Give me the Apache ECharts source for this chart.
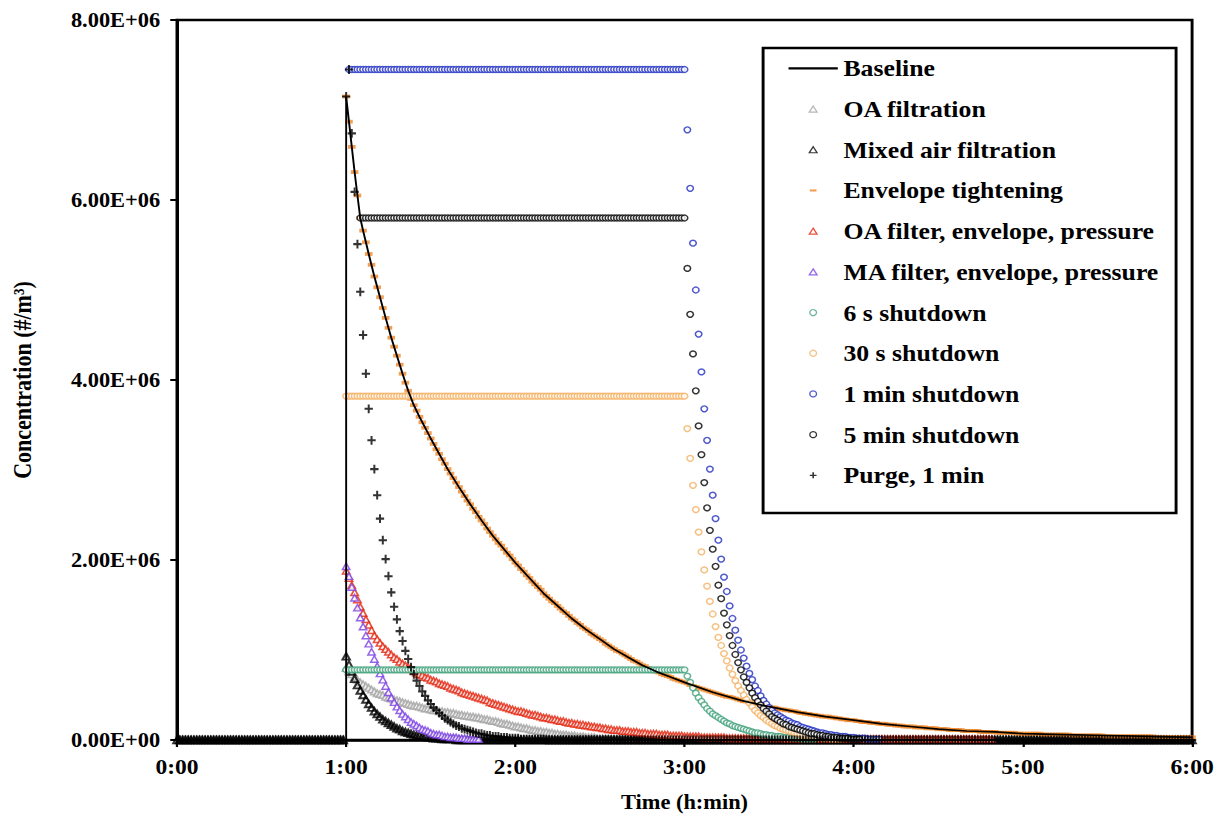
<!DOCTYPE html>
<html>
<head>
<meta charset="utf-8">
<script src="https://cdn.jsdelivr.net/npm/echarts@6/dist/echarts.min.js"></script>
<style>
html,body{margin:0;padding:0;background:#fff;overflow:hidden;}
#chart{width:1091px;height:816px;transform:scaleX(1.12007);transform-origin:0 0;}
</style>
</head>
<body>
<div id="chart"></div>
<script>
// ---------------- DATA (values in units of 1e6 #/m3, one value per minute) ----------------
const UNIT = 1e6;
const xTickLabels = ['0:00','1:00','2:00','3:00','4:00','5:00','6:00'];
const yTickLabels = ['0.00E+00','2.00E+06','4.00E+06','6.00E+06','8.00E+06'];
const seriesNames = ['Baseline','OA filtration','Mixed air filtration','Envelope tightening',
  'OA filter, envelope, pressure','MA filter, envelope, pressure','6 s shutdown',
  '30 s shutdown','1 min shutdown','5 min shutdown','Purge, 1 min'];

const baselineMinutes = [0,60,60,61,62,63,64,65,66,67,68,70,72,74,76,78,80,82,84,86,88,90,93,96,100,104,108,112,116,120,125,130,135,140,145,150,155,160,165,170,175,180,190,200,210,220,230,240,250,260,270,280,290,300,315,330,345,360];
const baselineValues = [0,0,7.15,6.87,6.59,6.31,6.05,5.80,5.66,5.53,5.40,5.15,4.92,4.69,4.47,4.27,4.07,3.88,3.72,3.59,3.47,3.35,3.18,3.01,2.81,2.62,2.44,2.27,2.12,1.97,1.80,1.63,1.49,1.35,1.23,1.12,1.01,0.92,0.83,0.76,0.70,0.64,0.53,0.44,0.37,0.31,0.26,0.22,0.18,0.15,0.12,0.10,0.09,0.07,0.06,0.05,0.04,0.03];

const oaFiltrationStart = 60;
const oaFiltration = [
0.80,0.76,0.73,0.70,0.67,0.64,0.62,0.60,0.58,0.56,
0.54,0.52,0.51,0.50,0.48,0.47,0.46,0.45,0.44,0.43,
0.42,0.41,0.40,0.39,0.38,0.38,0.37,0.36,0.35,0.35,
0.34,0.33,0.33,0.32,0.32,0.31,0.31,0.30,0.30,0.29,
0.28,0.28,0.27,0.27,0.26,0.26,0.25,0.25,0.24,0.23,
0.23,0.22,0.21,0.21,0.20,0.19,0.18,0.18,0.17,0.16,
0.15,0.15,0.14,0.13,0.13,0.12,0.11,0.11,0.10,0.10,
0.09,0.09,0.08,0.08,0.07,0.07,0.06,0.06,0.06,0.05,
0.05,0.05,0.04,0.04,0.04,0.03,0.03,0.03,0.03,0.02,
0.02,0.02,0.02,0.02,0.02,0.02,0.02,0.02,0.02,0.02,
0.01,0.01,0.01,0.01,0.01,0.01,0.01,0.01,0.01,0.01,0.01,0.01,0.01,0.01,0.01,0.01];

const mixedAirStart = 0;
const mixedAirFiltration = [
0,0,0,0,0,0,0,0,0,0,0,0,0,0,0,0,0,0,0,0,
0,0,0,0,0,0,0,0,0,0,0,0,0,0,0,0,0,0,0,0,
0,0,0,0,0,0,0,0,0,0,0,0,0,0,0,0,0,0,0,0,
0.93,0.84,0.76,0.68,0.61,0.55,0.50,0.45,0.40,0.36,
0.32,0.29,0.26,0.23,0.21,0.19,0.17,0.15,0.13,0.12,
0.10,0.09,0.08,0.07,0.06,0.05,0.05,0.04,0.04,0.03,
0.03,0.02,0.02,0.02,0.01,0.01,0.01,0.01,0.01,
0,0,0,0,0,0,0,0,0,0,0,0,0,0,0,0,0,0,0,0,
0,0,0,0,0,0,0,0,0,0,0,0,0,0,0,0,0,0,0,0,
0,0,0,0,0,0,0,0,0,0,0,0,0,0,0,0,0,0,0,0,
0,0,0,0,0,0,0,0,0,0,0,0,0,0,0,0,0,0,0,0,
0,0,0,0,0,0,0,0,0,0,0,0,0,0,0,0,0,0,0,0,
0,0,0,0,0,0,0,0,0,0,0,0,0,0,0,0,0,0,0,0,
0,0,0,0,0,0,0,0,0,0,0,0,0,0,0,0,0,0,0,0,
0,0,0,0,0,0,0,0,0,0,0,0,0,0,0,0,0,0,0,0,
0,0,0,0,0,0,0,0,0,0,0,0,0,0,0,0,0,0,0,0,
0,0,0,0,0,0,0,0,0,0,0,0,0,0,0,0,0,0,0,0,
0,0,0,0,0,0,0,0,0,0,0,0,0,0,0,0,0,0,0,0,
0,0,0,0,0,0,0,0,0,0,0,0,0,0,0,0,0,0,0,0,
0,0,0,0,0,0,0,0,0,0,0,0,0,0,0,0,0,0,0,0,
0,0];

const envelopeStart = 60;
const envelopeTightening = [
7.15,6.87,6.59,6.31,6.05,5.80,5.66,5.53,5.40,5.28,
5.15,5.03,4.92,4.80,4.69,4.58,4.47,4.37,4.27,4.17,
4.07,3.97,3.88,3.79,3.72,3.66,3.59,3.53,3.47,3.41,
3.35,3.29,3.23,3.18,3.12,3.07,3.01,2.96,2.91,2.86,
2.81,2.76,2.71,2.66,2.62,2.57,2.53,2.48,2.44,2.40,
2.35,2.31,2.27,2.23,2.19,2.16,2.12,2.08,2.05,2.01,
1.97,1.94,1.90,1.87,1.83,1.80,1.76,1.73,1.70,1.67,
1.63,1.60,1.57,1.54,1.52,1.49,1.46,1.43,1.41,1.38,
1.35,1.33,1.30,1.28,1.25,1.23,1.21,1.18,1.16,1.14,
1.12,1.10,1.07,1.05,1.03,1.01,0.99,0.98,0.96,0.94,
0.92,0.90,0.88,0.87,0.85,0.83,0.82,0.80,0.79,0.77,
0.76,0.75,0.73,0.72,0.71,0.70,0.68,0.67,0.66,0.65,
0.64,0.63,0.61,0.60,0.59,0.58,0.57,0.56,0.55,0.54,
0.53,0.52,0.51,0.50,0.49,0.48,0.48,0.47,0.46,0.45,
0.44,0.43,0.43,0.42,0.41,0.40,0.40,0.39,0.38,0.38,
0.37,0.36,0.36,0.35,0.34,0.34,0.33,0.33,0.32,0.32,
0.31,0.30,0.30,0.29,0.29,0.28,0.28,0.27,0.27,0.26,
0.26,0.26,0.25,0.25,0.24,0.24,0.23,0.23,0.22,0.22,
0.22,0.21,0.21,0.20,0.20,0.20,0.19,0.19,0.19,0.18,
0.18,0.18,0.17,0.17,0.17,0.16,0.16,0.16,0.15,0.15,
0.15,0.15,0.14,0.14,0.14,0.14,0.13,0.13,0.13,0.13,
0.12,0.12,0.12,0.12,0.11,0.11,0.11,0.11,0.11,0.10,
0.10,0.10,0.10,0.10,0.10,0.09,0.09,0.09,0.09,0.09,
0.09,0.08,0.08,0.08,0.08,0.08,0.08,0.08,0.07,0.07,
0.07,0.07,0.07,0.07,0.07,0.07,0.07,0.06,0.06,0.06,
0.06,0.06,0.06,0.06,0.06,0.06,0.06,0.05,0.05,0.05,
0.05,0.05,0.05,0.05,0.05,0.05,0.05,0.05,0.05,0.04,
0.04,0.04,0.04,0.04,0.04,0.04,0.04,0.04,0.04,0.04,
0.04,0.04,0.04,0.04,0.04,0.04,0.04,0.03,0.03,0.03,
0.03,0.03,0.03,0.03,0.03,0.03,0.03,0.03,0.03,0.03,0.03];

const oaFilterEnvStart = 60;
const oaFilterEnvelopePressure = [
1.88,1.80,1.72,1.64,1.56,1.48,1.41,1.34,1.28,1.22,
1.16,1.12,1.08,1.04,1.01,0.98,0.95,0.92,0.90,0.87,
0.85,0.83,0.81,0.79,0.77,0.75,0.73,0.72,0.70,0.69,
0.67,0.66,0.65,0.63,0.62,0.61,0.60,0.58,0.57,0.56,
0.55,0.53,0.52,0.51,0.50,0.49,0.48,0.47,0.46,0.45,
0.44,0.42,0.41,0.40,0.39,0.38,0.37,0.36,0.35,0.34,
0.33,0.32,0.32,0.31,0.30,0.29,0.28,0.28,0.27,0.26,
0.25,0.25,0.24,0.23,0.23,0.22,0.21,0.21,0.20,0.19,
0.19,0.18,0.18,0.17,0.17,0.16,0.16,0.15,0.15,0.14,
0.14,0.13,0.13,0.12,0.12,0.11,0.11,0.11,0.10,0.10,
0.10,0.09,0.09,0.09,0.08,0.08,0.08,0.07,0.07,0.07,
0.07,0.06,0.06,0.06,0.06,0.05,0.05,0.05,0.05,0.05,
0.04,0.04,0.04,0.04,0.04,0.04,0.03,0.03,0.03,0.03,
0.03,0.03,0.03,0.03,0.03,0.02,0.02,0.02,0.02,0.02,
0.02,0.02,0.02,0.02,0.02,0.02,0.02,0.02,0.02,0.02,
0.02,0.02,0.02,0.02,0.02,0.02,0.01,0.01,0.01,0.01,
0.01,0.01,0.01,0.01,0.01,0.01,0.01,0.01,0.01,0.01,
0.01,0.01,0.01,0.01,0.01,0.01,0.01,0.01,0.01,0.01,
0.01,0.01,0.01,0.01,0.01,0.01,0.01,0.01,0.01,0.01,
0.01,0.01,0.01,0.01,0.01,0.01,0.01,0.01,0.01,0.01,
0.01,0.01,0.01,0.01,0.01,0.01,0.01,0.01,0.01,0.01,
0.01,0.01,0.01,0.01,0.01,0.01,0.01,0.01,0.01,0.01,
0.01,0.01,0.01,0.01,0.01,0.01,0.01,0.01,0.01,0.01];

const maFilterEnvStart = 60;
const maFilterEnvelopePressure = [
1.93,1.82,1.70,1.58,1.47,1.36,1.26,1.16,1.07,0.98,
0.90,0.82,0.74,0.67,0.60,0.53,0.47,0.42,0.37,0.33,
0.29,0.26,0.23,0.20,0.18,0.16,0.14,0.12,0.11,0.10,
0.08,0.07,0.06,0.06,0.05,0.04,0.04,0.03,0.03,0.03,
0.02,0.02,0.02,0.01,0.01,0.01,0.01,0.01];

const sixSecStart = 60;
const sixSecShutdown = [
0.78,0.78,0.78,0.78,0.78,0.78,0.78,0.78,0.78,0.78,0.78,0.78,0.78,0.78,0.78,0.78,0.78,0.78,0.78,0.78,
0.78,0.78,0.78,0.78,0.78,0.78,0.78,0.78,0.78,0.78,0.78,0.78,0.78,0.78,0.78,0.78,0.78,0.78,0.78,0.78,
0.78,0.78,0.78,0.78,0.78,0.78,0.78,0.78,0.78,0.78,0.78,0.78,0.78,0.78,0.78,0.78,0.78,0.78,0.78,0.78,
0.78,0.78,0.78,0.78,0.78,0.78,0.78,0.78,0.78,0.78,0.78,0.78,0.78,0.78,0.78,0.78,0.78,0.78,0.78,0.78,
0.78,0.78,0.78,0.78,0.78,0.78,0.78,0.78,0.78,0.78,0.78,0.78,0.78,0.78,0.78,0.78,0.78,0.78,0.78,0.78,
0.78,0.78,0.78,0.78,0.78,0.78,0.78,0.78,0.78,0.78,0.78,0.78,0.78,0.78,0.78,0.78,0.78,0.78,0.78,0.78,
0.78,
0.71,0.64,0.58,0.52,0.47,0.43,0.39,0.35,0.32,0.29,
0.27,0.25,0.23,0.21,0.19,0.18,0.16,0.15,0.14,0.13,
0.12,0.11,0.10,0.09,0.08,0.08,0.07,0.06,0.06,0.05,
0.05,0.04,0.04,0.04,0.03,0.03,0.03,0.02,0.02,0.02,
0.02,0.01,0.01,0.01,0.01,0.01];

const thirtySecStart = 60;
const thirtySecShutdown = [
3.82,3.82,3.82,3.82,3.82,3.82,3.82,3.82,3.82,3.82,3.82,3.82,3.82,3.82,3.82,3.82,3.82,3.82,3.82,3.82,
3.82,3.82,3.82,3.82,3.82,3.82,3.82,3.82,3.82,3.82,3.82,3.82,3.82,3.82,3.82,3.82,3.82,3.82,3.82,3.82,
3.82,3.82,3.82,3.82,3.82,3.82,3.82,3.82,3.82,3.82,3.82,3.82,3.82,3.82,3.82,3.82,3.82,3.82,3.82,3.82,
3.82,3.82,3.82,3.82,3.82,3.82,3.82,3.82,3.82,3.82,3.82,3.82,3.82,3.82,3.82,3.82,3.82,3.82,3.82,3.82,
3.82,3.82,3.82,3.82,3.82,3.82,3.82,3.82,3.82,3.82,3.82,3.82,3.82,3.82,3.82,3.82,3.82,3.82,3.82,3.82,
3.82,3.82,3.82,3.82,3.82,3.82,3.82,3.82,3.82,3.82,3.82,3.82,3.82,3.82,3.82,3.82,3.82,3.82,3.82,3.82,
3.82,
3.46,3.13,2.83,2.56,2.31,2.09,1.89,1.71,1.54,1.40,
1.26,1.14,1.05,0.96,0.88,0.80,0.73,0.66,0.60,0.55,
0.50,0.45,0.41,0.37,0.33,0.30,0.27,0.25,0.22,0.20,
0.18,0.16,0.15,0.13,0.12,0.11,0.10,0.09,0.08,0.07,
0.06,0.05,0.05,0.04,0.04,0.03,0.03,0.03,0.02,0.02,
0.02,0.01,0.01,0.01,0.01];

const oneMinStart = 61;
const oneMinShutdown = [
7.45,7.45,7.45,7.45,7.45,7.45,7.45,7.45,7.45,7.45,7.45,7.45,7.45,7.45,7.45,7.45,7.45,7.45,7.45,7.45,
7.45,7.45,7.45,7.45,7.45,7.45,7.45,7.45,7.45,7.45,7.45,7.45,7.45,7.45,7.45,7.45,7.45,7.45,7.45,7.45,
7.45,7.45,7.45,7.45,7.45,7.45,7.45,7.45,7.45,7.45,7.45,7.45,7.45,7.45,7.45,7.45,7.45,7.45,7.45,7.45,
7.45,7.45,7.45,7.45,7.45,7.45,7.45,7.45,7.45,7.45,7.45,7.45,7.45,7.45,7.45,7.45,7.45,7.45,7.45,7.45,
7.45,7.45,7.45,7.45,7.45,7.45,7.45,7.45,7.45,7.45,7.45,7.45,7.45,7.45,7.45,7.45,7.45,7.45,7.45,7.45,
7.45,7.45,7.45,7.45,7.45,7.45,7.45,7.45,7.45,7.45,7.45,7.45,7.45,7.45,7.45,7.45,7.45,7.45,7.45,7.45,
6.78,6.13,5.52,5.00,4.51,4.09,3.68,3.33,3.01,2.72,
2.46,2.22,2.01,1.81,1.65,1.49,1.35,1.22,1.11,1.00,
0.91,0.82,0.74,0.67,0.60,0.55,0.49,0.44,0.40,0.36,
0.33,0.30,0.28,0.26,0.24,0.22,0.21,0.19,0.18,0.17,
0.15,0.14,0.13,0.12,0.11,0.10,0.09,0.08,0.08,0.07,
0.06,0.06,0.05,0.05,0.04,0.04,0.04,0.03,0.03,0.03,
0.02,0.02,0.02,0.02,0.01,0.01,0.01,0.01,0.01];

const fiveMinStart = 65;
const fiveMinShutdown = [
5.80,5.80,5.80,5.80,5.80,5.80,5.80,5.80,5.80,5.80,5.80,5.80,5.80,5.80,5.80,5.80,5.80,5.80,5.80,5.80,
5.80,5.80,5.80,5.80,5.80,5.80,5.80,5.80,5.80,5.80,5.80,5.80,5.80,5.80,5.80,5.80,5.80,5.80,5.80,5.80,
5.80,5.80,5.80,5.80,5.80,5.80,5.80,5.80,5.80,5.80,5.80,5.80,5.80,5.80,5.80,5.80,5.80,5.80,5.80,5.80,
5.80,5.80,5.80,5.80,5.80,5.80,5.80,5.80,5.80,5.80,5.80,5.80,5.80,5.80,5.80,5.80,5.80,5.80,5.80,5.80,
5.80,5.80,5.80,5.80,5.80,5.80,5.80,5.80,5.80,5.80,5.80,5.80,5.80,5.80,5.80,5.80,5.80,5.80,5.80,5.80,
5.80,5.80,5.80,5.80,5.80,5.80,5.80,5.80,5.80,5.80,5.80,5.80,5.80,5.80,5.80,5.80,
5.24,4.73,4.29,3.88,3.49,3.17,2.86,2.58,2.33,2.12,
1.93,1.72,1.57,1.41,1.28,1.16,1.05,0.95,0.86,0.78,
0.70,0.64,0.58,0.52,0.47,0.43,0.39,0.35,0.32,0.29,
0.26,0.24,0.22,0.20,0.18,0.17,0.15,0.14,0.13,0.12,
0.11,0.10,0.09,0.08,0.07,0.07,0.06,0.05,0.05,0.04,
0.04,0.03,0.03,0.03,0.02,0.02,0.02,0.02,0.01,0.01,0.01,0.01];

const purgeStart = 0;
const purgeOneMin = [
0,0,0,0,0,0,0,0,0,0,0,0,0,0,0,0,0,0,0,0,
0,0,0,0,0,0,0,0,0,0,0,0,0,0,0,0,0,0,0,0,
0,0,0,0,0,0,0,0,0,0,0,0,0,0,0,0,0,0,0,0,
7.15,
7.45,6.74,6.09,5.51,4.98,4.50,4.07,3.68,3.33,3.01,
2.72,2.46,2.22,2.01,1.82,1.64,1.48,1.34,1.21,1.10,
0.99,0.90,0.81,0.73,0.66,0.60,0.54,0.49,0.44,0.40,
0.36,0.33,0.30,0.27,0.24,0.22,0.20,0.18,0.16,0.15,
0.13,0.12,0.11,0.10,0.09,0.08,0.07,0.07,0.06,0.05,
0.05,0.04,0.04,0.04,0.03,0.03,0.03,0.02,0.02,0.02,
0.02,0.01,0.01,0.01,0.01,0.01,0.01,0.01,0.01,0.01,
0,0,0,0,0,0,0,0,0,0,0,0,0,0,0,0,0,0,0,0,
0,0,0,0,0,0,0,0,0,0,0,0,0,0,0,0,0,0,0,0,
0,0,0,0,0,0,0,0,0,0,0,0,0,0,0,0,0,0,0,0,
0,0,0,0,0,0,0,0,0,0,0,0,0,0,0,0,0,0,0,0,
0,0,0,0,0,0,0,0,0,0,0,0,0,0,0,0,0,0,0,0,
0,0,0,0,0,0,0,0,0,0,0,0,0,0,0,0,0,0,0,0,
0,0,0,0,0,0,0,0,0,0,0,0,0,0,0,0,0,0,0,0,
0,0,0,0,0,0,0,0,0,0,0,0,0,0,0,0,0,0,0,0,
0,0,0,0,0,0,0,0,0,0,0,0,0,0,0,0,0,0,0,0,
0,0,0,0,0,0,0,0,0,0,0,0,0,0,0,0,0,0,0,0,
0,0,0,0,0,0,0,0,0,0,0,0,0,0,0,0,0,0,0,0,
0,0,0,0,0,0,0,0,0,0];

// ---------------- BUILD ----------------
const perMinute = (start, vals) => vals.map((v, i) => [start + i, v * UNIT]);
const baselineData = baselineMinutes.map((m, i) => [m, baselineValues[i] * UNIT]);

const FONT = 'Liberation Serif';
const PLUS = 'path://M3.8,0 L6.2,0 L6.2,3.8 L10,3.8 L10,6.2 L6.2,6.2 L6.2,10 L3.8,10 L3.8,6.2 L0,6.2 L0,3.8 L3.8,3.8 Z';
const TRI = 'path://M5,0 L10,8.66 L0,8.66 Z';
const DASH_ICON = 'path://M0,0 M10,10 M0,3.2 L10,3.2 L10,6.8 L0,6.8 Z';
const LINE_ICON = 'path://M0,0 L45,0 L45,2.4 L0,2.4 Z';
const hollow = (c, w) => ({ color: '#fff', borderColor: c, borderWidth: w || 1.3 });

function scatter(name, data, symbol, size, itemStyle) {
  return { name, type: 'scatter', data, symbol, symbolSize: size, itemStyle,
           silent: true, animation: false };
}

const legendData = seriesNames.map(n => {
  if (n === 'Baseline') return { name: n, icon: LINE_ICON, itemStyle: { color: '#000', borderWidth: 0 } };
  if (n === 'Envelope tightening') return { name: n, icon: DASH_ICON };
  if (n === 'Mixed air filtration') return { name: n, itemStyle: { color: '#fff', borderWidth: 1.2 } };
  return { name: n };
});

const chart = echarts.init(document.getElementById('chart'), null, { renderer: 'svg' });
chart.setOption({
  animation: false,
  backgroundColor: '#fff',
  textStyle: { fontFamily: FONT },
  grid: { left: 158, right: 26.7, top: 20, bottom: 76, containLabel: false, outerBoundsMode: 'none',
          show: true, borderColor: '#000', borderWidth: 2.6, backgroundColor: 'transparent' },
  xAxis: {
    type: 'value', min: 0, max: 360, interval: 60,
    name: 'Time (h:min)', nameLocation: 'middle', nameGap: 52,
    nameTextStyle: { fontFamily: FONT, fontWeight: 'bold', fontSize: 20, color: '#000' },
    axisLine: { show: true, onZero: false, lineStyle: { color: '#000', width: 2.6 } },
    axisTick: { show: true, inside: false, length: 7, lineStyle: { color: '#000', width: 2 } },
    axisLabel: { margin: 16, fontFamily: FONT, fontWeight: 'bold', fontSize: 21, color: '#000',
                 formatter: v => xTickLabels[Math.round(v / 60)] },
    splitLine: { show: false }
  },
  yAxis: {
    type: 'value', min: 0, max: 8e6, interval: 2e6,
    name: 'Concentration (#/m³)', nameLocation: 'middle', nameGap: 127,
    nameTextStyle: { fontFamily: FONT, fontWeight: 'bold', fontSize: 22, color: '#000' },
    axisLine: { show: true, onZero: false, lineStyle: { color: '#000', width: 2.6 } },
    axisTick: { show: true, inside: false, length: 6, lineStyle: { color: '#000', width: 2 } },
    axisLabel: { margin: 15, fontFamily: FONT, fontWeight: 'bold', fontSize: 20, color: '#000',
                 formatter: v => yTickLabels[Math.round(v / 2e6)] },
    splitLine: { show: false }
  },
  legend: {
    orient: 'vertical', left: 704, top: 48, padding: 0, itemGap: 0,
    itemWidth: 44, itemHeight: 6, selectedMode: false, z: 5,
    itemStyle: { borderWidth: 1.2 },
    textStyle: { fontFamily: FONT, fontWeight: 'bold', fontSize: 23, color: '#000', lineHeight: 40.7 },
    data: legendData
  },
  graphic: { elements: [{
    type: 'rect', z: 3, silent: true,
    shape: { x: 681.3, y: 48, width: 368.7, height: 465 },
    style: { fill: '#fff', stroke: '#000', lineWidth: 2.6 }
  }]},
  series: [
    { name: seriesNames[0], type: 'line', data: baselineData, symbol: 'none', silent: true,
      lineStyle: { color: '#000', width: 1.7 }, itemStyle: { color: '#000' }, animation: false },
    scatter(seriesNames[1], perMinute(oaFiltrationStart, oaFiltration), TRI, [6.6, 6.4], hollow('#a2a2a2', 1.6)),
    scatter(seriesNames[2], perMinute(mixedAirStart, mixedAirFiltration), TRI, [6.6, 6.6],
            { color: 'rgba(255,255,255,0)', borderColor: '#000', borderWidth: 1.9 }),
    scatter(seriesNames[3], perMinute(envelopeStart, envelopeTightening), 'rect', [6.8, 3.8], { color: '#f0882a' }),
    scatter(seriesNames[4], perMinute(oaFilterEnvStart, oaFilterEnvelopePressure), TRI, [6.6, 6.4], hollow('#e4260f', 1.5)),
    scatter(seriesNames[5], perMinute(maFilterEnvStart, maFilterEnvelopePressure), TRI, [6.6, 6.4], hollow('#7b3fe4', 1.4)),
    scatter(seriesNames[6], perMinute(sixSecStart, sixSecShutdown), 'circle', 5.8, hollow('#40a07a', 1.4)),
    scatter(seriesNames[7], perMinute(thirtySecStart, thirtySecShutdown), 'circle', 5.8, hollow('#f4b062', 1.4)),
    scatter(seriesNames[8], perMinute(oneMinStart, oneMinShutdown), 'circle', 5.8, hollow('#2030c0', 1.4)),
    scatter(seriesNames[9], perMinute(fiveMinStart, fiveMinShutdown), 'circle', 5.8, hollow('#000', 1.4)),
    scatter(seriesNames[10], perMinute(purgeStart, purgeOneMin), PLUS, [7.4, 8.8], { color: '#000' })
  ]
});
</script>
</body>
</html>
